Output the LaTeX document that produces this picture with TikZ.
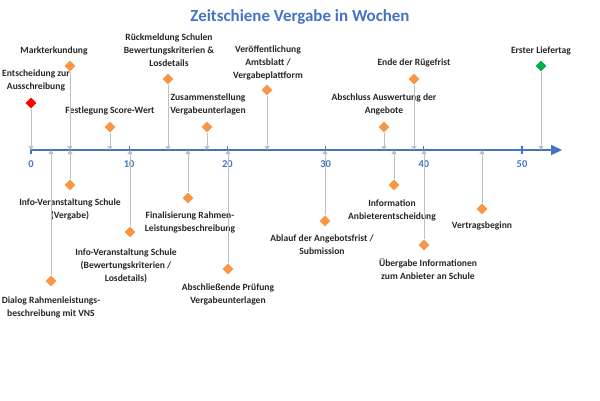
\documentclass[tikz,border=0pt]{standalone}
\usepackage{fontspec}
\setmainfont{Carlito}
\usetikzlibrary{arrows.meta,shapes.geometric}
\definecolor{axblue}{RGB}{68,114,196}
\definecolor{mkorange}{RGB}{247,150,70}
\definecolor{mkgreen}{RGB}{0,176,80}
\definecolor{conngray}{RGB}{191,191,191}
\begin{document}
\begin{tikzpicture}[x=1bp,y=-1bp,
  mk/.style={diamond,fill=mkorange,inner sep=0pt,minimum size=11bp},
  lbl/.style={font=\bfseries\fontsize{9.6}{13}\selectfont,align=center,text=black!85,inner sep=0pt},
  conn/.style={draw=conngray,line width=0.9bp,-{Triangle[width=5bp,length=4bp]}},
  tick/.style={axblue,line width=1.2bp},
  tlab/.style={font=\bfseries\fontsize{10.5}{11}\selectfont,text=axblue}]
\useasboundingbox (0,0) rectangle (600,400);
\node[font=\bfseries\fontsize{17}{19}\selectfont,text=axblue] (title) at (300,17) {Zeitschiene Vergabe in Wochen};
% axis
\coordinate (a0) at (31,150);
\coordinate (aend) at (562,150);
\draw[axblue,line width=2bp,-{Triangle[width=10bp,length=11bp]}] (a0) -- (aend);
\foreach \w in {0,10,20,30,40,50}{
  \draw[tick] ({31+9.82*\w},146) -- ({31+9.82*\w},154);
  \node[tlab] at ({31+9.82*\w},164) {\w};
}
% top markers
\node[mk,fill=red] (m1) at (31,103) {};
\node[lbl] (l1) at (36,80) {Entscheidung zur\\Ausschreibung};
\node[mk] (m2) at (70,66) {};
\node[lbl] (l2) at (54,51) {Markterkundung};
\node[mk] (m3) at (110,127) {};
\node[lbl] (l3) at (110,111) {Festlegung Score-Wert};
\node[mk] (m4) at (168,79) {};
\node[lbl] (l4) at (169,50) {Rückmeldung Schulen\\Bewertungskriterien \&\\Losdetails};
\node[mk] (m5) at (207,127) {};
\node[lbl] (l5) at (208,104) {Zusammenstellung\\Vergabeunterlagen};
\node[mk] (m6) at (267,90) {};
\node[lbl] (l6) at (268,63) {Veröffentlichung\\Amtsblatt /\\Vergabeplattform};
\node[mk] (m7) at (384,127) {};
\node[lbl] (l7) at (384,104) {Abschluss Auswertung der\\Angebote};
\node[mk] (m8) at (414,79) {};
\node[lbl] (l8) at (414,63) {Ende der Rügefrist};
\node[mk,fill=mkgreen] (m9) at (541,66) {};
\node[lbl] (l9) at (541,51) {Erster Liefertag};
\foreach \m in {m1,m2,m3,m4,m5,m6,m7,m8,m9}{
  \draw[conn] (\m) -- (\m |- a0);
}
% bottom markers
\node[mk] (b1) at (51,281) {};
\node[lbl] (k1) at (51,307) {Dialog Rahmenleistungs-\\beschreibung mit VNS};
\node[mk] (b2) at (70,185) {};
\node[lbl] (k2) at (70,209) {Info-Veranstaltung Schule\\(Vergabe)};
\node[mk] (b3) at (130,232) {};
\node[lbl] (k3) at (126,266) {Info-Veranstaltung Schule\\(Bewertungskriterien /\\Losdetails)};
\node[mk] (b4) at (188,198) {};
\node[lbl] (k4) at (190,222) {Finalisierung Rahmen-\\Leistungsbeschreibung};
\node[mk] (b5) at (228,269) {};
\node[lbl] (k5) at (228,294) {Abschließende Prüfung\\Vergabeunterlagen};
\node[mk] (b6) at (325,221) {};
\node[lbl] (k6) at (322,245) {Ablauf der Angebotsfrist /\\Submission};
\node[mk] (b7) at (394,185) {};
\node[lbl] (k7) at (392,210) {Information\\Anbieterentscheidung};
\node[mk] (b8) at (424,245) {};
\node[lbl] (k8) at (428,269) {Übergabe Informationen\\zum Anbieter an Schule};
\node[mk] (b9) at (482,209) {};
\node[lbl] (k9) at (482,226) {Vertragsbeginn};
\foreach \m in {b1,b2,b3,b4,b5,b6,b7,b8,b9}{
  \draw[conn] (\m) -- (\m |- a0);
}
\end{tikzpicture}
\end{document}
